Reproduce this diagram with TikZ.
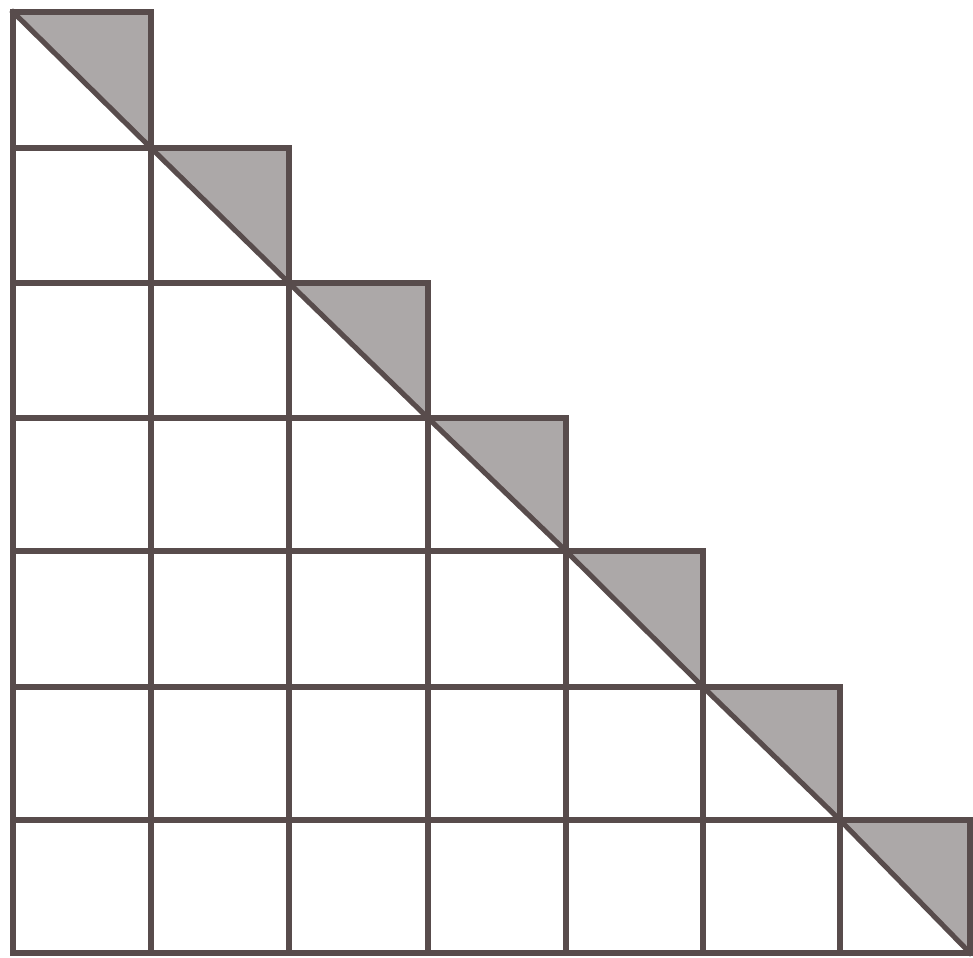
\documentclass[tikz,border=0pt]{standalone}
\definecolor{gridline}{RGB}{88,76,76}
\definecolor{shade}{RGB}{172,168,168}
\tikzset{
  gridstroke/.style={draw=gridline, line width=1.45pt, line cap=rect, line join=miter},
  shadetri/.style={fill=shade}
}
\begin{document}
\begin{tikzpicture}[x=0.01cm, y=-0.01cm]
  \useasboundingbox (0,0) rectangle (973,958);
  % grid corner points along the diagonal
  \coordinate (c0) at (13,12);
  \coordinate (c1) at (151,148);
  \coordinate (c2) at (289,283);
  \coordinate (c3) at (428,418);
  \coordinate (c4) at (566,551);
  \coordinate (c5) at (703,687);
  \coordinate (c6) at (840,820);
  \coordinate (c7) at (970,953);
  % shaded upper-right triangles of the diagonal cells
  \foreach \i [evaluate=\i as \j using int(\i-1)] in {1,...,7} {
    \fill[shadetri] (c\j) -- (c\i |- c\j) -- (c\i) -- cycle;
  }
  % horizontal lines
  \foreach \i [evaluate=\i as \k using int(\i+1)] in {0,...,6} {
    \draw[gridstroke] (c0 |- c\i) -- (c\k |- c\i);
  }
  \draw[gridstroke] (c0 |- c7) -- (c7);
  % vertical lines
  \draw[gridstroke] (c0) -- (c0 |- c7);
  \foreach \k [evaluate=\k as \j using int(\k-1)] in {1,...,7} {
    \draw[gridstroke] (c\k |- c\j) -- (c\k |- c7);
  }
  % diagonals of the diagonal cells
  \foreach \i [evaluate=\i as \j using int(\i-1)] in {1,...,7} {
    \draw[gridstroke] (c\j) -- (c\i);
  }
\end{tikzpicture}
\end{document}
